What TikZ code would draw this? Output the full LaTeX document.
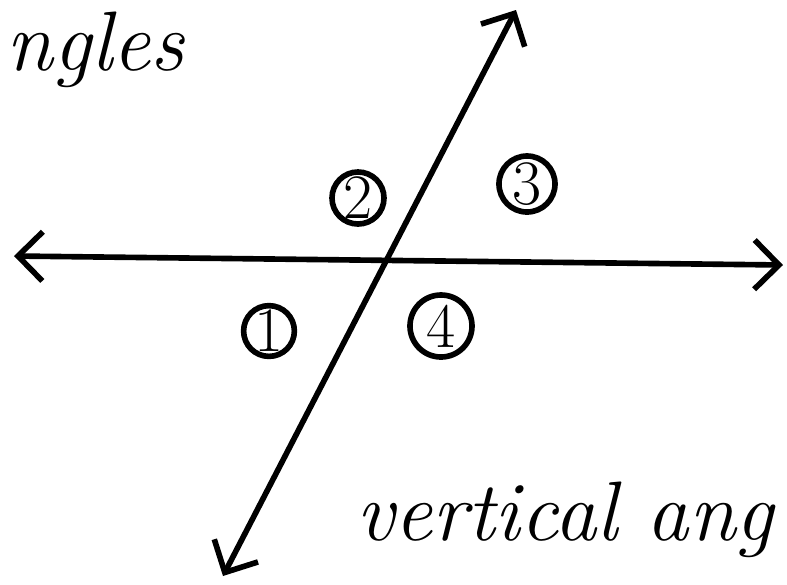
\documentclass[tikz,border=0pt]{standalone}
\usepackage{tikz}
\usetikzlibrary{arrows.meta}
\pgfdeclarelayer{edgelayer}
\pgfdeclarelayer{nodelayer}
\pgfsetlayers{edgelayer,nodelayer,main}
\tikzstyle{edge}=[draw=black, line width=1.6pt, line cap=round, {Straight Barb[length=7pt,width=14pt,line width=1.6pt]}-{Straight Barb[length=7pt,width=14pt,line width=1.6pt]}]
\tikzstyle{anglenum}=[circle, draw=black, line width=1.6pt, inner sep=0pt, font=\fontsize{18}{20}\selectfont]
\tikzstyle{note}=[inner sep=0pt, font=\fontsize{24}{28}\selectfont\itshape]

\begin{document}
\begin{tikzpicture}[x=0.01cm, y=-0.01cm]
	\useasboundingbox (0, 0) rectangle (787, 584);
	\begin{pgfonlayer}{nodelayer}
		\coordinate (left) at (14, 256);
		\coordinate (right) at (783, 265);
		\coordinate (top) at (516, 10);
		\coordinate (bottom) at (223, 576);
		\node [style=anglenum, minimum size=0.46cm] (one) at (269, 331) {1};
		\node [style=anglenum, minimum size=0.52cm] (two) at (358, 198) {2};
		\node [style=anglenum, minimum size=0.56cm] (three) at (527, 184) {3};
		\node [style=anglenum, minimum size=0.62cm] (four) at (441, 326) {4};
		\node [style=note, anchor=base west] (title) at (6, 70) {ngles};
		\node [style=note, anchor=base west] (caption) at (356, 540) {vertical ang};
	\end{pgfonlayer}
	\begin{pgfonlayer}{edgelayer}
		\draw [style=edge] (left) to (right);
		\draw [style=edge] (bottom) to (top);
	\end{pgfonlayer}
\end{tikzpicture}
\end{document}
